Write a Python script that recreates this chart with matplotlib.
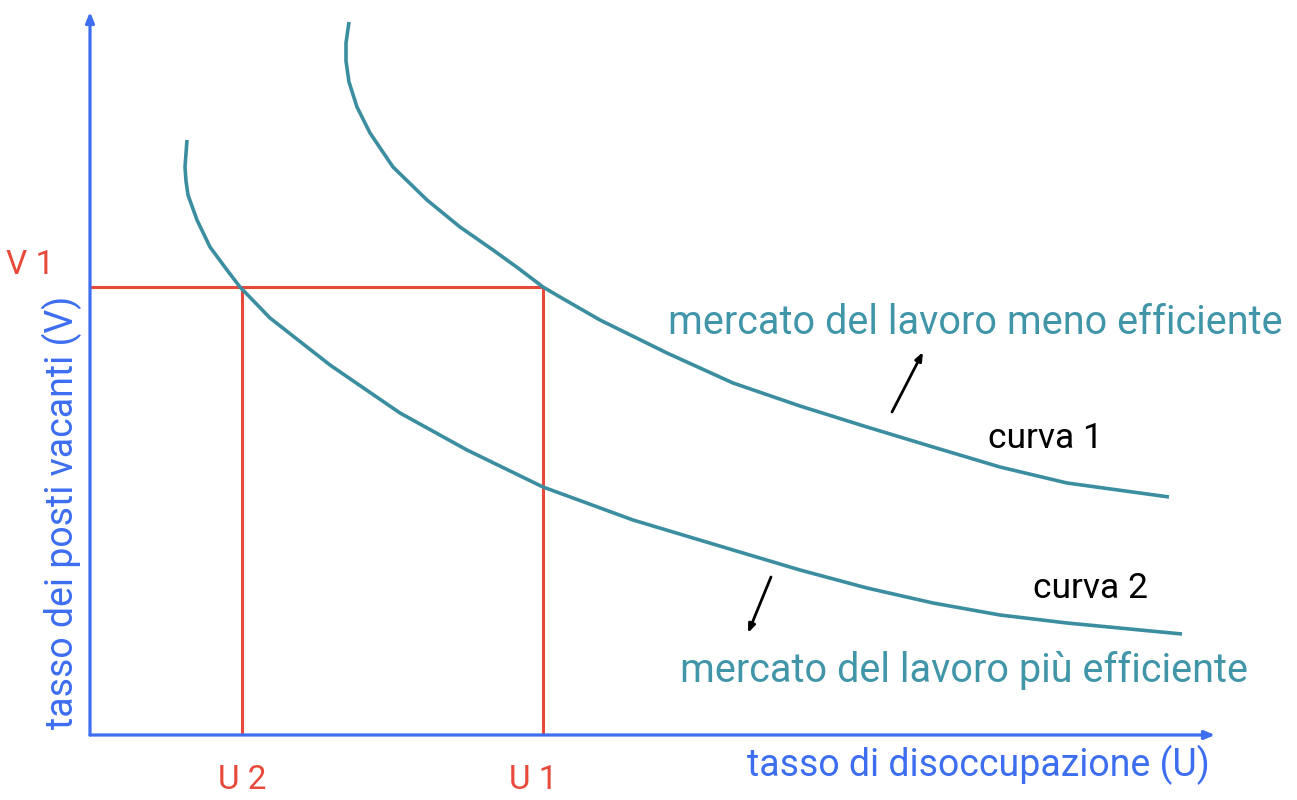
import matplotlib
matplotlib.use('Agg')
import matplotlib.pyplot as plt

# colori
BLU = '#3d6ef0'
ROSSO = '#e8493a'
TEAL = '#3b8e9f'
TEAL_TXT = '#4096a8'

plt.rcParams['font.family'] = ['Roboto', 'DejaVu Sans']

# valori (unita' arbitrarie)
U1 = 45.3
U2 = 15.2
V1 = 44.8

curva1_u = [25.9, 25.6, 25.6, 25.9, 26.7, 28.0, 30.3, 33.7, 37.0, 40.3, 42.8, 45.3, 47.0, 51.0,
            57.7, 64.3, 71.0, 77.7, 84.3, 91.0, 97.7, 107.9]
curva1_v = [71.3, 69.2, 67.4, 65.3, 62.8, 60.2, 56.8, 53.5, 50.8, 48.5, 46.7, 44.8, 43.8, 41.5,
            38.2, 35.2, 32.9, 30.8, 28.8, 26.8, 25.2, 23.8]

curva2_u = [9.7, 9.5, 9.6, 9.8, 10.7, 12.0, 13.7, 15.0, 18.0, 24.0, 31.0, 37.7, 45.3, 54.3,
            64.3, 71.0, 77.7, 84.3, 91.0, 97.7, 109.2]
curva2_v = [59.5, 56.8, 55.4, 54.0, 51.5, 48.8, 46.5, 44.8, 41.7, 37.0, 32.2, 28.5, 24.8, 21.5,
            18.5, 16.5, 14.7, 13.2, 12.0, 11.2, 10.1]

XMAX = 112.5
YMAX = 72.3

fig = plt.figure(figsize=(12.97, 8.0), dpi=100)
ax = fig.add_axes([90 / 1297, 65 / 800, 1125 / 1297, 723 / 800])
ax.set_xlim(0, XMAX)
ax.set_ylim(0, YMAX)
ax.axis('off')

# assi con freccia
freccia = dict(arrowstyle='-|>,head_length=0.6,head_width=0.25', color=BLU, lw=2.3,
               shrinkA=0, shrinkB=0)
ax.annotate('', xy=(XMAX, 0), xytext=(0, 0), arrowprops=freccia, annotation_clip=False)
ax.annotate('', xy=(0, YMAX), xytext=(0, 0), arrowprops=freccia, annotation_clip=False)

# linee rosse
ax.plot([0, U1], [V1, V1], color=ROSSO, lw=2.2, solid_capstyle='butt')
ax.plot([U2, U2], [0, V1], color=ROSSO, lw=2.2, solid_capstyle='butt')
ax.plot([U1, U1], [0, V1], color=ROSSO, lw=2.2, solid_capstyle='butt')

# curve
ax.plot(curva1_u, curva1_v, color=TEAL, lw=2.6, solid_capstyle='butt', solid_joinstyle='round')
ax.plot(curva2_u, curva2_v, color=TEAL, lw=2.6, solid_capstyle='butt', solid_joinstyle='round')

# etichette
ax.text(-6.0, 47.0, 'V 1', color=ROSSO, fontsize=24, ha='center', va='center', clip_on=False)
ax.text(U2, -4.5, 'U 2', color=ROSSO, fontsize=24, ha='center', va='center', clip_on=False)
ax.text(U1 - 1.0, -4.5, 'U 1', color=ROSSO, fontsize=24, ha='center', va='center', clip_on=False)
ax.text(112.0, -3.0, 'tasso di disoccupazione (U)', color=BLU, fontsize=27,
        ha='right', va='center', clip_on=False)
ax.text(-2.8, 22.3, 'tasso dei posti vacanti (V)', color=BLU, fontsize=27, rotation=90,
        ha='center', va='center', clip_on=False)

ax.text(57.8, 41.2, 'mercato del lavoro meno efficiente', color=TEAL_TXT, fontsize=28.5,
        ha='left', va='center', clip_on=False)
ax.text(89.8, 29.6, 'curva 1', color='black', fontsize=25.5, ha='left', va='center')
ax.text(94.3, 14.6, 'curva 2', color='black', fontsize=25.5, ha='left', va='center')
ax.text(59.0, 6.5, 'mercato del lavoro più efficiente', color=TEAL_TXT, fontsize=28.5,
        ha='left', va='center', clip_on=False)

# frecce nere
nera = dict(arrowstyle='-|>,head_length=0.5,head_width=0.2', color='black', lw=2.0,
            shrinkA=0, shrinkB=0)
ax.annotate('', xy=(83.3, 38.3), xytext=(80.2, 32.3), arrowprops=nera)
ax.annotate('', xy=(65.8, 10.2), xytext=(68.1, 15.8), arrowprops=nera)

fig.savefig('out.png', dpi=100, facecolor='white')
